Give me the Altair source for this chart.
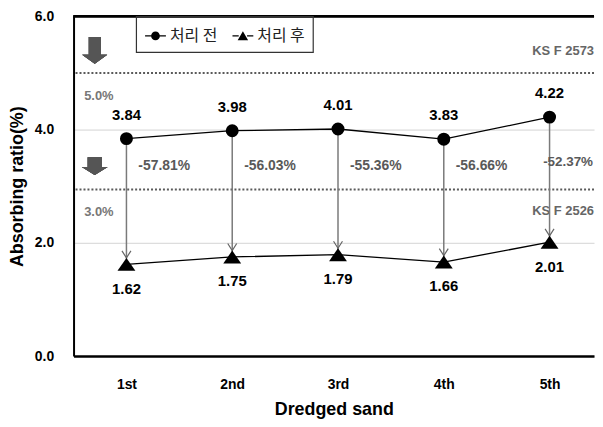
import json
import altair as alt
import pandas as pd

# ---- data ----
rounds = ["1st", "2nd", "3rd", "4th", "5th"]
before = [3.84, 3.98, 4.01, 3.83, 4.22]
after = [1.62, 1.75, 1.79, 1.66, 2.01]
reduction = ["-57.81%", "-56.03%", "-55.36%", "-56.66%", "-52.37%"]
series_names = ["처리 전", "처리 후"]
y_ticks = [0, 2, 4, 6]
limit_levels = [5.0, 2.94]
limit_names = ["KS F 2573", "KS F 2526"]
limit_pct = ["5.0%", "3.0%"]

idx = list(range(1, len(rounds) + 1))
wide = pd.DataFrame({"idx": idx, "round": rounds, "before": before,
                     "after": after, "red": reduction})
long = pd.DataFrame({"idx": idx * 2, "value": before + after,
                     "series": [series_names[0]] * 5 + [series_names[1]] * 5})

W, H = 524, 342
XMAX = 0.5 + W / 106.5
FONT = "Liberation Sans"

xscale = alt.Scale(domain=[0.5, XMAX], nice=False, zero=False)
yscale = alt.Scale(domain=[0, 6], nice=False)

x_enc = alt.X("idx:Q", scale=xscale,
              axis=alt.Axis(values=idx, labelExpr=json.dumps(rounds) + "[datum.value-1]",
                            grid=False, ticks=False, domainColor="black", domainWidth=2.5,
                            labelFontSize=14, labelPadding=22, title="Dredged sand",
                            titleFontSize=18, titlePadding=9),
              title="Dredged sand")
y_axis = alt.Axis(values=y_ticks, format=".1f", grid=True, gridColor="#d4d4d4", gridWidth=1,
                  ticks=False, domainColor="black", domainWidth=2, labelFontSize=14,
                  labelPadding=20, title="Absorbing ratio(%)", titleFontSize=18, titlePadding=8)

base = alt.Chart(wide)

# frame top line
top_line = base.mark_rule(color="black", strokeWidth=2).encode(y=alt.datum(6, scale=yscale, axis=y_axis))

# KS limit dotted lines
lim_df = pd.DataFrame({"lvl": limit_levels, "name": limit_names, "pct": limit_pct})
lim_lines = alt.Chart(lim_df).mark_rule(color="#5a5a5a", strokeWidth=2, strokeDash=[2, 2]).encode(
    y=alt.Y("lvl:Q", scale=yscale))

ks1 = alt.Chart(lim_df.iloc[[0]]).mark_text(align="right", baseline="middle", font=FONT, fontWeight="bold",
                                           fontSize=13, color="#666666", dy=-22).encode(
    x=alt.datum(XMAX), y=alt.Y("lvl:Q"), text="name:N")
ks2 = alt.Chart(lim_df.iloc[[1]]).mark_text(align="right", baseline="middle", font=FONT, fontWeight="bold",
                                           fontSize=13, color="#666666", dy=22).encode(
    x=alt.datum(XMAX), y=alt.Y("lvl:Q"), text="name:N")
pct = alt.Chart(lim_df).mark_text(align="left", baseline="middle", font=FONT, fontWeight="bold",
                                  fontSize=13, color="#777777", dy=23).encode(
    x=alt.datum(0.6), y=alt.Y("lvl:Q"), text="pct:N")

# block arrows
arrow1_path = "M-0.44,-1 L0.44,-1 L0.44,0.33 L0.93,0.33 L0,1 L-0.93,0.33 L-0.44,0.33 Z"
arrow2_path = "M-0.78,-1 L0.78,-1 L0.78,0.11 L1.44,0.11 L0,1 L-1.44,0.11 L-0.78,0.11 Z"
arrow1 = base.mark_point(shape=arrow1_path, filled=True, color="#555555", size=729, opacity=1).encode(
    x=alt.datum(0.7), y=alt.datum(5.40))
arrow2 = base.mark_point(shape=arrow2_path, filled=True, color="#555555", size=324, opacity=1).encode(
    x=alt.datum(0.7), y=alt.datum(3.355))

# vertical connectors
conn = base.mark_rule(color="#7a7a7a", strokeWidth=1.5).encode(
    x=alt.X("idx:Q"), y=alt.Y("before:Q"), y2="after:Q")
vhead = base.mark_point(shape="M-1,-3.0 L0,-1.44 L1,-3.0", filled=False, color="#666666",
                        strokeWidth=1.2, size=81, opacity=1).encode(
    x=alt.X("idx:Q"), y=alt.Y("after:Q"))

# series lines and points
lines = alt.Chart(long).mark_line(color="black", strokeWidth=1.3).encode(
    x=alt.X("idx:Q"), y=alt.Y("value:Q"), detail="series:N")
tri_path = "M0,-0.72 L1,0.72 L-1,0.72 Z"
tri_pts = alt.Chart(long[long.series == series_names[1]]).mark_point(
    filled=True, color="black", opacity=1, size=324, shape=tri_path).encode(
    x=alt.X("idx:Q"), y=alt.Y("value:Q"))
circ_pts = alt.Chart(long[long.series == series_names[0]]).mark_point(
    filled=True, color="black", opacity=1, size=170, shape="circle").encode(
    x=alt.X("idx:Q"), y=alt.Y("value:Q"))

# legend (drawn by the shape scale; its own marks are clipped out of view)
bar_l = "M-1,-0.06 L-0.38,-0.06 L-0.38,0.06 L-1,0.06 Z M0.38,-0.06 L1,-0.06 L1,0.06 L0.38,0.06 Z "
leg_circle = bar_l + "M-0.42,0 A0.42,0.42 0 1,1 0.42,0 A0.42,0.42 0 1,1 -0.42,0 Z"
bar_t = "M-1,-0.06 L-0.4,-0.06 L-0.4,0.06 L-1,0.06 Z M0.4,-0.06 L1,-0.06 L1,0.06 L0.4,0.06 Z "
leg_tri = bar_t + "M0,-0.45 L0.5,0.4 L-0.5,0.4 Z"
legend_layer = alt.Chart(long).mark_point(filled=True, color="black", opacity=1, clip=True).encode(
    x=alt.X("idx:Q"), y=alt.datum(-5),
    shape=alt.Shape("series:N", scale=alt.Scale(domain=series_names, range=[leg_circle, leg_tri]),
                    legend=alt.Legend(title=None, orient="none", legendX=63, legendY=0,
                                      direction="horizontal", strokeColor="#333333", padding=8,
                                      symbolSize=440, symbolFillColor="black",
                                      labelFont="Noto Sans CJK KR", labelFontSize=16,
                                      labelColor="#222222", columnPadding=12, labelOffset=3)))

# value labels
lab_before = base.mark_text(font=FONT, fontWeight="bold", fontSize=15, color="black", dy=-24,
                            baseline="middle").encode(
    x=alt.X("idx:Q"), y=alt.Y("before:Q"), text=alt.Text("before:Q", format=".2f"))
lab_after = base.mark_text(font=FONT, fontWeight="bold", fontSize=15, color="black", dy=24.5,
                           baseline="middle").encode(
    x=alt.X("idx:Q"), y=alt.Y("after:Q"), text=alt.Text("after:Q", format=".2f"))

red_df = wide.assign(ry=3.35)
red_main = alt.Chart(red_df[red_df.idx < 5]).mark_text(
    font=FONT, fontWeight="bold", fontSize=14, color="#595959", align="left", dx=12,
    baseline="middle").encode(x=alt.X("idx:Q"), y=alt.Y("ry:Q"), text="red:N")
red_last = alt.Chart(wide[wide.idx == 5].assign(ry=3.43)).mark_text(
    font=FONT, fontWeight="bold", fontSize=13.5, color="#595959", align="right", dx=-1,
    baseline="middle").encode(x=alt.datum(XMAX), y=alt.Y("ry:Q"), text="red:N")

first = base.mark_rule(opacity=0).encode(x=x_enc, y=alt.Y("before:Q", scale=yscale, axis=y_axis))

chart = alt.layer(
    first, lim_lines, top_line, ks1, ks2, pct, arrow1, arrow2, conn, vhead, lines,
    circ_pts, tri_pts, legend_layer, lab_before, lab_after, red_main, red_last
).resolve_scale(shape="independent").properties(
    width=W, height=H, padding={"left": 0, "right": 0, "top": 0, "bottom": 0}
).configure_view(stroke=None).configure_axis(
    labelFont=FONT, titleFont=FONT, labelFontWeight="bold", titleFontWeight="bold",
    labelColor="black", titleColor="black"
).configure_legend(strokeColor="#333333", strokeWidth=1.2)

chart.save("out.html", embed_options={"renderer": "svg", "actions": False})
